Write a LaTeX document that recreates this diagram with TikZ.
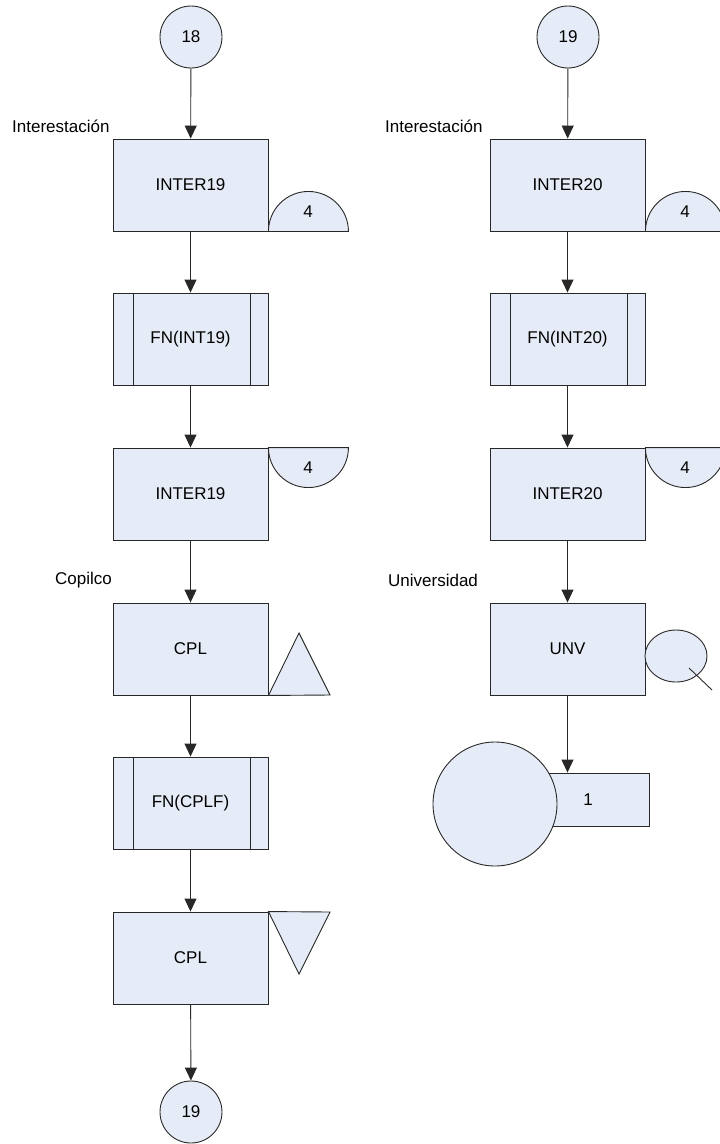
\documentclass[tikz,border=0pt]{standalone}
\usepackage{fontspec}
\setmainfont{Liberation Sans}
\usetikzlibrary{arrows.meta,shapes.geometric}
\definecolor{boxfill}{RGB}{230,236,247}
\definecolor{edge}{RGB}{40,40,40}
\tikzset{
  every node/.style={font=\fontsize{17}{20}\selectfont},
  proc/.style={draw=edge, fill=boxfill, line width=0.9pt, rectangle,
    minimum width=155pt, minimum height=92pt, inner sep=0pt},
  subproc/.style={proc, path picture={
    \draw[edge, line width=0.9pt]
      ([xshift=20pt]path picture bounding box.north west) --
      ([xshift=20pt]path picture bounding box.south west);
    \draw[edge, line width=0.9pt]
      ([xshift=-18pt]path picture bounding box.north east) --
      ([xshift=-18pt]path picture bounding box.south east);}},
  conn/.style={draw=edge, fill=boxfill, line width=0.9pt, circle,
    minimum size=62pt, inner sep=0pt},
  shapefill/.style={draw=edge, fill=boxfill, line width=0.9pt},
  flow/.style={draw=edge, line width=0.9pt,
    -{Triangle[length=13pt,width=12pt]}},
  tag/.style={inner sep=0pt},
}
\begin{document}
\begin{tikzpicture}[x=1pt, y=-1pt]
\useasboundingbox (0,0) rectangle (720,1144);

% ---------- left column ----------
\node[conn] (c18) at (191,37) {18};
\node[tag, anchor=west] (lab1) at (12,126) {Interestación};
\node[proc] (i19a) at (190.5,185) {INTER19};
\node[subproc] (fn19) at (190.5,339) {FN(INT19)};
\node[proc] (i19b) at (190.5,494) {INTER19};
\node[tag, anchor=east] (lab2) at (112,580) {Copilco};
\node[proc] (cpla) at (190.5,649) {CPL};
\node[subproc] (fncp) at (190.5,803) {FN(CPLF)};
\node[proc] (cplb) at (190.5,958) {CPL};
\node[conn] (c19b) at (191,1112) {19};

% half discs beside the INTER19 boxes
\draw[shapefill] (i19a.south east) arc[start angle=180, end angle=0, radius=40pt] -- cycle;
\node (h1) at (308,212) {4};
\draw[shapefill] (i19b.north east) arc[start angle=180, end angle=360, radius=40pt] -- cycle;
\node (h2) at (308,468) {4};

% triangles beside the CPL boxes
\coordinate (ta1) at (cpla.south east);
\draw[shapefill] (ta1) -- (330,695) -- (299,633) -- cycle;
\coordinate (ta2) at (cplb.north east);
\draw[shapefill] (ta2) -- (330,912) -- (299,974) -- cycle;

\draw[flow] (c18) -- (i19a);
\draw[flow] (i19a) -- (fn19);
\draw[flow] (fn19) -- (i19b);
\draw[flow] (i19b) -- (cpla);
\draw[flow] (cpla) -- (fncp);
\draw[flow] (fncp) -- (cplb);
\draw[flow] (cplb) -- (c19b);

% ---------- right column ----------
\node[conn] (c19a) at (568,37) {19};
\node[tag, anchor=west] (lab3) at (385,126) {Interestación};
\node[proc] (i20a) at (567.5,185) {INTER20};
\node[subproc] (fn20) at (567.5,339) {FN(INT20)};
\node[proc] (i20b) at (567.5,494) {INTER20};
\node[tag, anchor=west] (lab4) at (388,580) {Universidad};
\node[proc] (unv) at (567.5,649) {UNV};

\draw[shapefill] (i20a.south east) arc[start angle=180, end angle=0, radius=40pt] -- cycle;
\node (h3) at (685,212) {4};
\draw[shapefill] (i20b.north east) arc[start angle=180, end angle=360, radius=40pt] -- cycle;
\node (h4) at (685,468) {4};

% magnifier beside UNV
\node[draw=edge, fill=boxfill, line width=0.9pt, ellipse, inner sep=0pt,
  minimum width=62pt, minimum height=52pt] (ell) at (676,656) {};
\draw[edge, line width=0.9pt] ([shift={(13,12)}]ell.center) -- ++(23,22);

% terminal: card with a large disc
\node[proc, minimum width=122pt, minimum height=53pt] (card) at (588,799.5) {1};
\node[draw=edge, fill=boxfill, line width=0.9pt, circle, minimum size=124pt,
  inner sep=0pt] (disc) at (495,804) {};

\draw[flow] (c19a) -- (i20a);
\draw[flow] (i20a) -- (fn20);
\draw[flow] (fn20) -- (i20b);
\draw[flow] (i20b) -- (unv);
\draw[flow] (unv.south) -- (unv.south |- card.north);
\end{tikzpicture}
\end{document}
